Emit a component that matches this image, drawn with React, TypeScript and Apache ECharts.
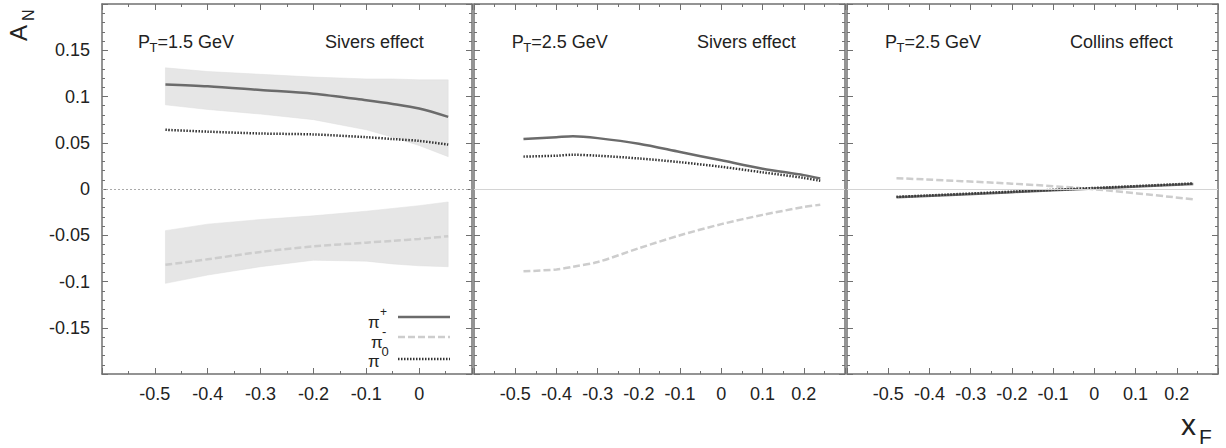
import React, { useEffect, useRef } from 'react';
import * as echarts from 'echarts';

const FONT = '"Liberation Sans", Arial, Helvetica, sans-serif';

// Panel 1: PT = 1.5 GeV, Sivers effect
const xs1 = [-0.48, -0.4, -0.3, -0.2, -0.1, -0.05, 0, 0.055];
const piPlus1 = [0.113, 0.111, 0.107, 0.103, 0.096, 0.092, 0.087, 0.078];
const piPlus1Hi = [0.131, 0.127, 0.124, 0.121, 0.119, 0.119, 0.118, 0.118];
const piPlus1Lo = [0.091, 0.086, 0.081, 0.075, 0.064, 0.056, 0.047, 0.035];
const piZero1 = [0.064, 0.062, 0.060, 0.059, 0.056, 0.054, 0.052, 0.048];
const piMinus1 = [-0.082, -0.076, -0.068, -0.062, -0.058, -0.056, -0.054, -0.051];
const piMinus1Hi = [-0.045, -0.038, -0.033, -0.029, -0.024, -0.021, -0.018, -0.014];
const piMinus1Lo = [-0.102, -0.093, -0.084, -0.077, -0.078, -0.081, -0.083, -0.084];

// Panel 2: PT = 2.5 GeV, Sivers effect
const xs2 = [-0.48, -0.4, -0.36, -0.3, -0.2, -0.1, 0, 0.1, 0.2, 0.24];
const piPlus2 = [0.054, 0.056, 0.057, 0.055, 0.049, 0.040, 0.031, 0.022, 0.015, 0.0115];
const piZero2 = [0.035, 0.036, 0.037, 0.036, 0.033, 0.029, 0.024, 0.018, 0.012, 0.009];
const piMinus2 = [-0.089, -0.087, -0.084, -0.079, -0.064, -0.050, -0.038, -0.028, -0.0195, -0.017];

// Panel 3: PT = 2.5 GeV, Collins effect
const xs3 = [-0.48, -0.2, 0, 0.24];
const piPlus3 = [-0.009, -0.0034, 0.0006, 0.0055];
const piZero3 = [-0.0085, -0.0029, 0.0011, 0.006];
const piMinus3 = [0.0117, 0.0058, -0.0003, -0.0111];

const xTickLabels = ['-0.5', '-0.4', '-0.3', '-0.2', '-0.1', '0', '0.1', '0.2'];
const yTickLabels = ['-0.15', '-0.1', '-0.05', '0', '0.05', '0.1', '0.15'];

const panelTitles = [
  { pt: '=1.5 GeV', effect: 'Sivers effect' },
  { pt: '=2.5 GeV', effect: 'Sivers effect' },
  { pt: '=2.5 GeV', effect: 'Collins effect' },
];

const AXIS_COLOR = '#707070';
const grids = [
  { left: 102, top: 4, width: 370, height: 370 },
  { left: 474, top: 4, width: 371, height: 370 },
  { left: 847, top: 4, width: 371, height: 370 },
];
const xMax = [0.1, 0.3, 0.3];

const fmt = (v: number) => String(parseFloat(v.toFixed(3)));

function makeXAxis(i: number, top: boolean) {
  return {
    type: 'value',
    gridIndex: i,
    position: top ? 'top' : 'bottom',
    min: -0.6,
    max: xMax[i],
    interval: 0.1,
    axisLine: { show: true, onZero: false, lineStyle: { color: AXIS_COLOR, width: 1.5 } },
    axisTick: { show: true, inside: true, length: 6, lineStyle: { color: AXIS_COLOR, width: 1 } },
    minorTick: { show: true, splitNumber: 2, length: 3, lineStyle: { color: AXIS_COLOR, width: 1 } },
    splitLine: { show: false },
    axisLabel: {
      show: !top,
      margin: 11,
      fontSize: 18,
      fontFamily: FONT,
      color: '#222',
      showMinLabel: false,
      showMaxLabel: false,
      formatter: (v: number) => {
        const s = fmt(v);
        return xTickLabels.includes(s) ? s : '';
      },
    },
  };
}

function makeYAxis(i: number, right: boolean) {
  return {
    type: 'value',
    gridIndex: i,
    position: right ? 'right' : 'left',
    min: -0.2,
    max: 0.2,
    interval: 0.05,
    axisLine: { show: true, onZero: false, lineStyle: { color: AXIS_COLOR, width: 1.5 } },
    axisTick: { show: true, inside: true, length: 6, lineStyle: { color: AXIS_COLOR, width: 1 } },
    minorTick: { show: true, splitNumber: 5, length: 3, lineStyle: { color: AXIS_COLOR, width: 1 } },
    splitLine: { show: false },
    axisLabel: {
      show: i === 0 && !right,
      margin: 12,
      fontSize: 18,
      fontFamily: FONT,
      color: '#222',
      showMinLabel: false,
      showMaxLabel: false,
      formatter: (v: number) => {
        const s = fmt(v);
        return yTickLabels.includes(s) ? s : '';
      },
    },
  };
}

const PLUS_STYLE = { color: '#6b6b6b', width: 2.5, type: 'solid' };
const MINUS_STYLE = { color: '#cdcdcd', width: 2.5, type: [7, 3] };
const ZERO_STYLE = { color: '#333', width: 2.5, type: [1.5, 1.5] };

function lineSeries(name: string, xs: number[], ys: number[], style: any, gi: number, extra: any = {}) {
  return {
    name,
    type: 'line',
    xAxisIndex: gi * 2,
    yAxisIndex: gi * 2,
    data: xs.map((x, k) => [x, ys[k]]),
    showSymbol: false,
    symbol: 'none',
    smooth: 0.3,
    lineStyle: style,
    z: 3,
    silent: true,
    ...extra,
  };
}

function bandSeries(xs: number[], lo: number[], hi: number[], gi: number) {
  return {
    type: 'custom',
    xAxisIndex: gi * 2,
    yAxisIndex: gi * 2,
    data: xs.map((x, k) => [x, lo[k], hi[k]]),
    encode: { x: 0, y: [1, 2] },
    silent: true,
    z: 1,
    renderItem: (params: any, api: any) => {
      if (params.dataIndex !== 0) return null;
      const top = xs.map((x, k) => api.coord([x, hi[k]]));
      const bottom = xs.map((x, k) => api.coord([x, lo[k]])).reverse();
      return {
        type: 'polygon',
        shape: { points: top.concat(bottom) },
        style: { fill: '#e6e6e6', stroke: '#dedede', lineWidth: 0.5 },
      };
    },
  };
}

function zeroMark(dotted: boolean) {
  return {
    markLine: {
      silent: true,
      symbol: 'none',
      label: { show: false },
      lineStyle: dotted
        ? { color: '#aaa', width: 1, type: [2, 2] }
        : { color: '#d4d4d4', width: 1, type: 'solid' },
      data: [{ yAxis: 0 }],
    },
  };
}

function txt(text: string, x: number, y: number, size: number, extra: any = {}) {
  return {
    type: 'text',
    x,
    y,
    silent: true,
    z: 10,
    style: {
      text,
      fontSize: size,
      fontFamily: FONT,
      fill: '#222',
      align: 'left',
      verticalAlign: 'middle',
      ...extra,
    },
  };
}

function legendLine(y: number, style: any) {
  return {
    type: 'line',
    silent: true,
    z: 10,
    shape: { x1: 398, y1: y, x2: 450, y2: y },
    style: {
      stroke: style.color,
      lineWidth: style.width,
      lineDash: Array.isArray(style.type) ? style.type : null,
    },
  };
}

const titleOffsets = [0, 373.7, 747];
const effectX = [325, 697, 1070];

const graphic: any[] = [];
panelTitles.forEach((t, i) => {
  const ox = 138 + titleOffsets[i];
  graphic.push(txt('P', ox, 42, 18));
  graphic.push(txt('T', ox + 11.5, 47.5, 13));
  graphic.push(txt(t.pt, ox + 19.5, 42, 18));
  graphic.push(txt(t.effect, effectX[i], 42, 18));
});

// legend (panel 1)
graphic.push(txt('π', 368, 322, 17));
graphic.push(txt('+', 380, 312, 12));
graphic.push(legendLine(317, PLUS_STYLE));
graphic.push(txt('π', 371, 342, 17));
graphic.push(txt('-', 382, 331, 13));
graphic.push(legendLine(337, MINUS_STYLE));
graphic.push(txt('π', 368, 361, 17));
graphic.push(txt('0', 381.5, 351, 13));
graphic.push(legendLine(359, ZERO_STYLE));

// axis titles
graphic.push({
  type: 'group',
  x: 30,
  y: 41,
  rotation: Math.PI / 2,
  silent: true,
  children: [
    { type: 'text', x: 0, y: 0, style: { text: 'A', fontSize: 24, fontFamily: FONT, fill: '#222', align: 'left', verticalAlign: 'bottom' } },
    { type: 'text', x: 20, y: 6, style: { text: 'N', fontSize: 16, fontFamily: FONT, fill: '#222', align: 'left', verticalAlign: 'bottom' } },
  ],
});
graphic.push(txt('x', 1181, 424, 30));
graphic.push(txt('F', 1199, 436, 21));

const option: any = {
  animation: false,
  backgroundColor: '#fff',
  grid: grids.map((g) => ({ ...g, containLabel: false })),
  xAxis: [0, 1, 2].flatMap((i) => [makeXAxis(i, false), makeXAxis(i, true)]),
  yAxis: [0, 1, 2].flatMap((i) => [makeYAxis(i, false), makeYAxis(i, true)]),
  series: [
    bandSeries(xs1, piPlus1Lo, piPlus1Hi, 0),
    bandSeries(xs1, piMinus1Lo, piMinus1Hi, 0),
    lineSeries('π+ (1.5 GeV)', xs1, piPlus1, PLUS_STYLE, 0, zeroMark(true)),
    lineSeries('π- (1.5 GeV)', xs1, piMinus1, MINUS_STYLE, 0),
    lineSeries('π0 (1.5 GeV)', xs1, piZero1, ZERO_STYLE, 0),
    lineSeries('π+ (2.5 GeV Sivers)', xs2, piPlus2, PLUS_STYLE, 1, zeroMark(false)),
    lineSeries('π- (2.5 GeV Sivers)', xs2, piMinus2, MINUS_STYLE, 1),
    lineSeries('π0 (2.5 GeV Sivers)', xs2, piZero2, ZERO_STYLE, 1),
    lineSeries('π+ (2.5 GeV Collins)', xs3, piPlus3, PLUS_STYLE, 2, zeroMark(false)),
    lineSeries('π- (2.5 GeV Collins)', xs3, piMinus3, MINUS_STYLE, 2),
    lineSeries('π0 (2.5 GeV Collins)', xs3, piZero3, ZERO_STYLE, 2),
  ],
  graphic,
};

export default function App() {
  const ref = useRef<HTMLDivElement>(null);
  useEffect(() => {
    const chart = echarts.init(ref.current!, null, { renderer: 'svg' });
    chart.setOption(option);
    return () => chart.dispose();
  }, []);
  return (
    <div
      ref={ref}
      style={{ position: 'absolute', left: 0, top: 0, width: 1226, height: 448, background: '#fff' }}
    />
  );
}
